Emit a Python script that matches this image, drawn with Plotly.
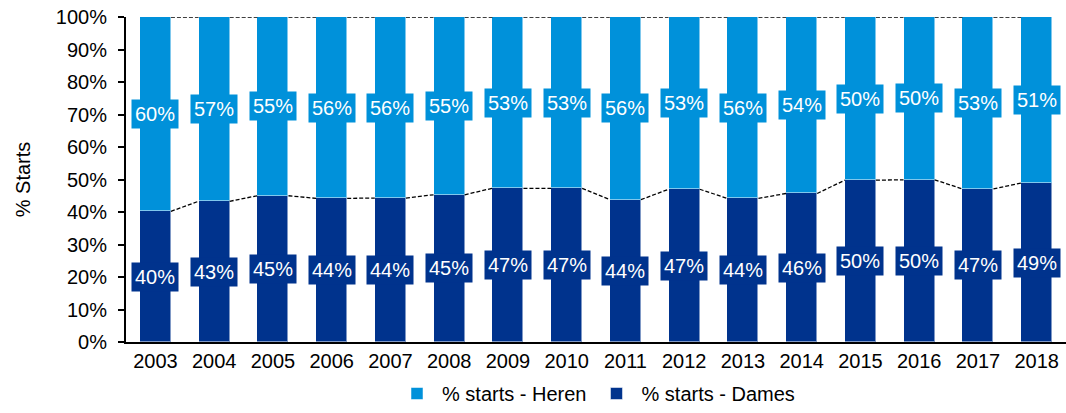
import plotly.graph_objects as go

years = ["2003","2004","2005","2006","2007","2008","2009","2010","2011","2012","2013","2014","2015","2016","2017","2018"]
dames = [40.2, 43.3, 45.0, 44.2, 44.3, 45.3, 47.3, 47.3, 43.8, 47.0, 44.2, 45.7, 49.8, 49.9, 47.1, 48.9]
heren = [round(100 - d, 1) for d in dames]
dames_labels = ["40%","43%","45%","44%","44%","45%","47%","47%","44%","47%","44%","46%","50%","50%","47%","49%"]
heren_labels = ["60%","57%","55%","56%","56%","55%","53%","53%","56%","53%","56%","54%","50%","50%","53%","51%"]

C_HEREN = "#0091DA"
C_DAMES = "#00338D"
FONT = "Liberation Sans, Arial, sans-serif"
FS = 20
BW = 0.53

xs = list(range(len(years)))
fig = go.Figure()
fig.add_trace(go.Bar(x=xs, y=dames, name="% starts - Dames", marker=dict(color=C_DAMES, line=dict(color="rgba(255,255,255,0.5)", width=1)), width=BW, legendrank=2))
fig.add_trace(go.Bar(x=xs, y=heren, name="% starts - Heren", marker=dict(color=C_HEREN, line=dict(color="rgba(255,255,255,0.5)", width=1)), width=BW, legendrank=1))

# series lines
def series_line(tops):
    lx, ly = [], []
    for i in range(len(tops) - 1):
        lx += [xs[i] + BW / 2, xs[i + 1] - BW / 2, None]
        ly += [tops[i], tops[i + 1], None]
    return lx, ly

for tops in (dames, [d + h for d, h in zip(dames, heren)]):
    lx, ly = series_line(tops)
    fig.add_trace(go.Scatter(x=lx, y=ly, mode="lines", line=dict(color="#000", width=1.3, dash="4px,2px"),
                             showlegend=False, hoverinfo="skip", cliponaxis=False))

for i in xs:
    fig.add_annotation(x=xs[i], y=dames[i] / 2, text=dames_labels[i], showarrow=False, bgcolor=C_DAMES,
                       font=dict(color="white", size=FS, family=FONT), borderpad=3)
    fig.add_annotation(x=xs[i], y=dames[i] + heren[i] / 2, text=heren_labels[i], showarrow=False, bgcolor=C_HEREN,
                       font=dict(color="white", size=FS, family=FONT), borderpad=3)

fig.update_layout(
    barmode="stack",
    width=1066, height=413,
    margin=dict(l=126, r=0, t=17, b=66),
    plot_bgcolor="white", paper_bgcolor="white",
    font=dict(family=FONT, size=FS, color="black"),
    bargap=0,
    legend=dict(orientation="h", x=0.5, xanchor="center", y=-0.16, yanchor="middle", font=dict(size=FS),
                traceorder="normal", itemwidth=40),
    xaxis=dict(range=[-0.5, 15.5], tickmode="array", tickvals=xs, ticktext=years, showline=True, linecolor="black", linewidth=2,
               showgrid=False, zeroline=False, ticks="", tickfont=dict(size=FS)),
    yaxis=dict(range=[0, 100], tickvals=list(range(0, 101, 10)), ticktext=[f"{v}%" for v in range(0, 101, 10)],
               showline=True, linecolor="black", linewidth=2, ticks="outside", ticklen=6, tickwidth=1.5, tickcolor="black",
               showgrid=False, zeroline=False, tickfont=dict(size=FS), ticklabelstandoff=7,
               title=dict(text="% Starts", font=dict(size=FS), standoff=20)),
)
fig.write_html("out.html", config={"displayModeBar": False}, post_script="document.body.style.margin='0';")
